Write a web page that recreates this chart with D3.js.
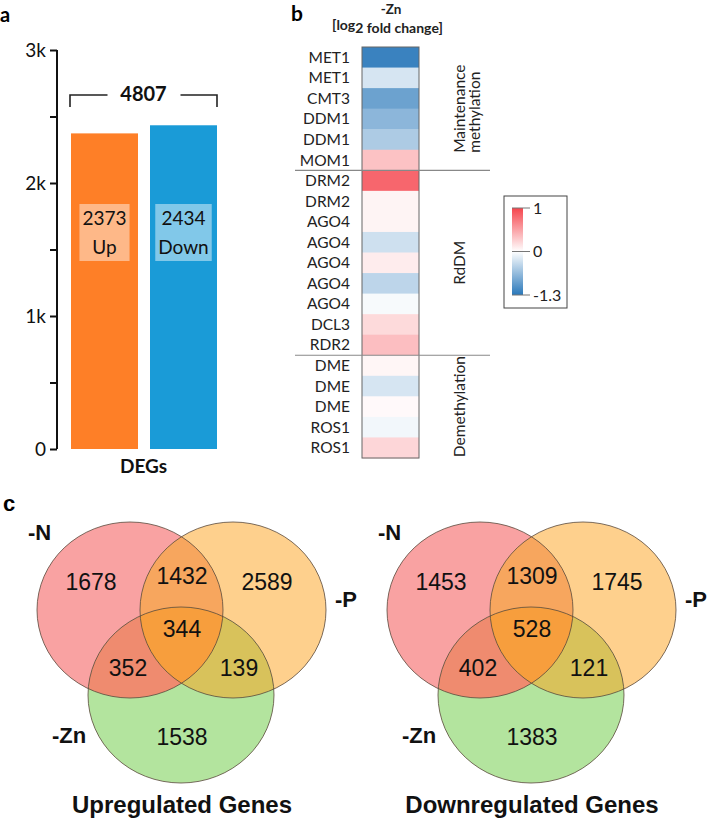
<!DOCTYPE html>
<html><head><meta charset="utf-8">
<script src="https://cdn.jsdelivr.net/npm/d3@7"></script>
<style>body{margin:0;background:#fff}svg{display:block}</style>
</head><body><svg id="c" width="709" height="819"></svg>
<script>
// ---------- DATA ----------
const degCategories = ["Up", "Down"];
const degValues = [2373, 2434];
const degTotal = 4807;
const yTicks = [0, 500, 1000, 1500, 2000, 2500, 3000];
const yTickLabels = {0: "0", 1000: "1k", 2000: "2k", 3000: "3k"};

const genes = ["MET1","MET1","CMT3","DDM1","DDM1","MOM1","DRM2","DRM2","AGO4","AGO4","AGO4","AGO4","AGO4","DCL3","RDR2","DME","DME","DME","ROS1","ROS1"];
const log2fc = [-1.2,-0.25,-0.9,-0.7,-0.5,0.33,0.82,0.06,0.06,-0.3,0.1,-0.4,-0.05,0.2,0.35,0.05,-0.25,0.03,-0.08,0.22];
const groupNames = [["Maintenance","methylation"], ["RdDM"], ["Demethylation"]];
const groupStarts = [0, 6, 15];
const groupEnds = [6, 15, 20];
const legendTicks = [1, 0, -1.3];

const vennSets = ["-N", "-P", "-Zn"];
const vennRegions = ["N", "NP", "P", "NPZ", "NZ", "PZ", "Z"];
const upCounts = [1678, 1432, 2589, 344, 352, 139, 1538];
const downCounts = [1453, 1309, 1745, 528, 402, 121, 1383];
const vennTitles = ["Upregulated Genes", "Downregulated Genes"];

// ---------- DRAW ----------
const svg = d3.select("#c");
svg.append("rect").attr("width", 709).attr("height", 819).attr("fill", "#fff");
const FA = "Lato, 'Open Sans', sans-serif";
const FV = "'Liberation Sans', Arial, sans-serif";

// ===== Panel a =====
svg.append("text").attr("x", 0).attr("y", 22).attr("font-family", FA).attr("font-weight", 700)
  .attr("font-size", 20).text("a");

const y = d3.scaleLinear().domain([0, 3000]).range([449, 50]);
const x = d3.scaleBand().domain(degCategories).range([71, 217]).paddingInner(0.152).paddingOuter(0);
const barColors = ["#fe7f27", "#1a9bd7"];

const ax = svg.append("g").attr("transform", "translate(57,0)")
  .call(d3.axisLeft(y).tickValues(yTicks).tickSize(7).tickPadding(4)
    .tickFormat(d => yTickLabels[d] !== undefined ? yTickLabels[d] : ""));
ax.select(".domain").attr("stroke", "#111").attr("stroke-width", 2).attr("d", "M0,50V449");
ax.selectAll(".tick line").attr("stroke", "#111").attr("stroke-width", 2);
ax.selectAll(".tick text").attr("font-family", FA).attr("font-size", 19).attr("fill", "#111");

svg.selectAll(".bar").data(degValues).enter().append("rect")
  .attr("x", (d, i) => x(degCategories[i])).attr("width", x.bandwidth())
  .attr("y", d => y(d)).attr("height", d => y(0) - y(d))
  .attr("fill", (d, i) => barColors[i]);

degValues.forEach((v, i) => {
  const cx = x(degCategories[i]) + x.bandwidth() / 2;
  const g = svg.append("g");
  const t = g.append("text").attr("font-family", FA).attr("font-size", 19).attr("fill", "#111")
    .attr("text-anchor", "middle");
  t.append("tspan").attr("x", cx).attr("y", 225).text(v);
  t.append("tspan").attr("x", cx).attr("y", 254).text(degCategories[i]);
  const bb = t.node().getBBox();
  g.insert("rect", "text").attr("x", bb.x - 3).attr("width", bb.width + 6)
    .attr("y", 204).attr("height", 57).attr("fill", "#fff").attr("opacity", 0.45);
});

// bracket + total
const bl = x(degCategories[0]) - 1, br = x(degCategories[1]) + x.bandwidth();
const bc = (bl + br) / 2;
svg.append("path").attr("d", `M${bl},107V95H${bc - 36}M${bc + 37},95H${br}V107`)
  .attr("fill", "none").attr("stroke", "#222").attr("stroke-width", 1.6);
svg.append("text").attr("x", bc).attr("y", 101).attr("text-anchor", "middle")
  .attr("font-family", FA).attr("font-weight", 700).attr("font-size", 20).attr("fill", "#111").text(degTotal);
svg.append("text").attr("x", bc).attr("y", 473).attr("text-anchor", "middle")
  .attr("font-family", FA).attr("font-weight", 700).attr("font-size", 19).attr("fill", "#111").text("DEGs");

// ===== Panel b =====
svg.append("text").attr("x", 291).attr("y", 21).attr("font-family", FA).attr("font-weight", 700)
  .attr("font-size", 21).text("b");
svg.append("text").attr("x", 391).attr("y", 14).attr("text-anchor", "middle").attr("font-family", FA)
  .attr("font-weight", 700).attr("font-size", 13.5).attr("fill", "#222").text("-Zn");
const hdr = svg.append("text").attr("x", 332).attr("y", 33).attr("font-family", FA)
  .attr("font-weight", 700).attr("font-size", 14).attr("fill", "#222");
hdr.append("tspan").attr("dy", -3).text("[log");
hdr.append("tspan").attr("dy", 3).text("2 fold change]");

const hy = d3.scaleBand().domain(d3.range(genes.length)).range([47, 458]);
const hx0 = 362, hx1 = 419;
const color = d3.scaleLinear().domain([-1.3, 0, 1]).range(["#2a78ba", "#ffffff", "#f5454d"]);

svg.selectAll(".cell").data(log2fc).enter().append("rect")
  .attr("x", hx0).attr("width", hx1 - hx0)
  .attr("y", (d, i) => hy(i)).attr("height", hy.bandwidth() + 0.5)
  .attr("fill", d => color(d));
svg.append("rect").attr("x", hx0).attr("y", 47).attr("width", hx1 - hx0).attr("height", 411)
  .attr("fill", "none").attr("stroke", "#666").attr("stroke-width", 1);

svg.selectAll(".gene").data(genes).enter().append("text")
  .attr("x", 350).attr("y", (d, i) => hy(i) + hy.bandwidth() / 2 + 5.5)
  .attr("text-anchor", "end").attr("font-family", FA).attr("font-size", 15.5).attr("fill", "#222")
  .text(d => d);

[6, 15].forEach(k => {
  svg.append("line").attr("x1", 295).attr("x2", 490).attr("y1", hy(k)).attr("y2", hy(k))
    .attr("stroke", "#888").attr("stroke-width", 1.2);
});

groupNames.forEach((names, gi) => {
  const cy = (hy(groupStarts[gi]) + hy(groupEnds[gi] - 1) + hy.bandwidth()) / 2;
  const t0 = svg.append("text").attr("font-family", FA).attr("font-size", 15.5).attr("fill", "#222")
    .attr("text-anchor", "middle").attr("transform", `translate(465,${cy}) rotate(-90)`).text(names[0]);
  if (names.length > 1) {
    const w = t0.node().getComputedTextLength();
    svg.append("text").attr("font-family", FA).attr("font-size", 15.5).attr("fill", "#222")
      .attr("text-anchor", "start").attr("transform", `translate(480,${cy + w / 2}) rotate(-90)`).text(names[1]);
  }
});

// legend
svg.append("rect").attr("x", 504).attr("y", 196).attr("width", 63).attr("height", 112)
  .attr("fill", "#fff").attr("stroke", "#444").attr("stroke-width", 1);
const ly = d3.scaleLinear().domain([-1.3, 0, 1]).range([295, 251.5, 208]);
const defs = svg.append("defs");
const grad = defs.append("linearGradient").attr("id", "lg").attr("x1", 0).attr("x2", 0).attr("y1", 1).attr("y2", 0);
[-1.3, 0, 1].forEach(v => {
  grad.append("stop").attr("offset", (295 - ly(v)) / (295 - 208)).attr("stop-color", color(v));
});
svg.append("rect").attr("x", 512).attr("y", 208).attr("width", 11).attr("height", 87)
  .attr("fill", "url(#lg)");
legendTicks.forEach(v => {
  svg.append("line").attr("x1", 512).attr("x2", 530).attr("y1", ly(v)).attr("y2", ly(v))
    .attr("stroke", "#777").attr("stroke-width", 1);
  svg.append("text").attr("x", 533).attr("y", ly(v) + 5.5).attr("font-family", FA).attr("font-size", 16)
    .attr("fill", "#222").text(v);
});

// ===== Panel c =====
svg.append("text").attr("x", 3).attr("y", 511).attr("font-family", FV).attr("font-weight", 700)
  .attr("font-size", 22).text("c");

const rx = 93, ry = 88;
const centers = {N: [130, 610], P: [233, 610], Z: [181, 695]};
const regionPos = {N: [91, 590], NP: [182, 584], P: [267, 590], NPZ: [182, 637], NZ: [128, 676], PZ: [239, 676], Z: [182, 745]};
const setLabelPos = [[28, 540], [335, 607], [52, 743]];
const fills = {N: "#f9a2a2", P: "#fed08d", Z: "#b3e49e", NP: "#f7a65e", NZ: "#ef8b6f", PZ: "#d8c25b", NPZ: "#f79e3d"};

function venn(dx, counts, title, idx) {
  ["N", "P", "Z"].forEach(k => {
    defs.append("clipPath").attr("id", `cl${k}${idx}`).append("ellipse")
      .attr("cx", centers[k][0] + dx).attr("cy", centers[k][1]).attr("rx", rx).attr("ry", ry);
  });
  const gg = svg.append("g");
  const eA = (sel, k, fill) => sel.append("ellipse").attr("cx", centers[k][0] + dx).attr("cy", centers[k][1])
    .attr("rx", rx).attr("ry", ry).attr("fill", fill);
  eA(gg, "N", fills.N); eA(gg, "P", fills.P); eA(gg, "Z", fills.Z);
  eA(gg.append("g").attr("clip-path", `url(#clP${idx})`), "N", fills.NP);
  eA(gg.append("g").attr("clip-path", `url(#clZ${idx})`), "N", fills.NZ);
  eA(gg.append("g").attr("clip-path", `url(#clZ${idx})`), "P", fills.PZ);
  eA(gg.append("g").attr("clip-path", `url(#clZ${idx})`).append("g").attr("clip-path", `url(#clP${idx})`), "N", fills.NPZ);
  ["N", "P", "Z"].forEach(k => eA(gg, k, "none").attr("stroke", "#5a4a3c").attr("stroke-width", 1).attr("stroke-opacity", 0.8));
  const lg = svg.append("g").attr("transform", `translate(${dx},0)`);
  vennRegions.forEach((r, i) => {
    lg.append("text").attr("x", regionPos[r][0]).attr("y", regionPos[r][1]).attr("text-anchor", "middle")
      .attr("font-family", FV).attr("font-size", 23).attr("fill", "#111").text(counts[i]);
  });
  vennSets.forEach((s, i) => {
    lg.append("text").attr("x", setLabelPos[i][0]).attr("y", setLabelPos[i][1])
      .attr("font-family", FV).attr("font-weight", 700).attr("font-size", 22).attr("fill", "#111").text(s);
  });
  lg.append("text").attr("x", 182).attr("y", 813).attr("text-anchor", "middle")
    .attr("font-family", FV).attr("font-weight", 700).attr("font-size", 24).attr("fill", "#111").text(title);
}
venn(0, upCounts, vennTitles[0], 0);
venn(350, downCounts, vennTitles[1], 1);
</script></body></html>
